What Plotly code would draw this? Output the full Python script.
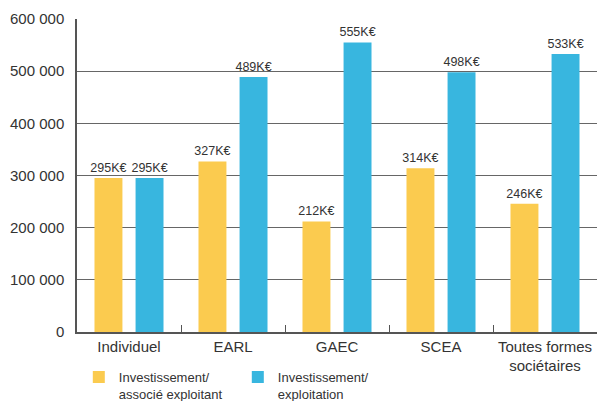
import plotly.graph_objects as go

categories = ["Individuel", "EARL", "GAEC", "SCEA", "Toutes formes<br>sociétaires"]
associe_k = [295, 327, 212, 314, 246]
exploitation_k = [295, 489, 555, 498, 533]
y_ticks = [0, 100000, 200000, 300000, 400000, 500000, 600000]
y_ticktext = ["0", "100 000", "200 000", "300 000", "400 000", "500 000", "600 000"]

YELLOW = "#FBCB4F"
BLUE = "#38B6DF"
FONT = "Liberation Sans, Arial, sans-serif"

fig = go.Figure()
fig.add_trace(go.Bar(
    x=categories, y=[v * 1000 for v in associe_k],
    name="Investissement/<br>associé exploitant",
    marker=dict(color=YELLOW, line=dict(width=0)),
    text=[f"{v}K€" for v in associe_k], textposition="outside",
    textfont=dict(size=12.5, color="#333333", family=FONT),
    constraintext="none", cliponaxis=False,
))
fig.add_trace(go.Bar(
    x=categories, y=[v * 1000 for v in exploitation_k],
    name="Investissement/<br>exploitation",
    marker=dict(color=BLUE, line=dict(width=0)),
    text=[f"{v}K€" for v in exploitation_k], textposition="outside",
    textfont=dict(size=12.5, color="#333333", family=FONT),
    constraintext="none", cliponaxis=False,
))

fig.update_layout(
    width=597, height=401,
    margin=dict(l=77, r=0, t=19, b=69, autoexpand=False),
    paper_bgcolor="white", plot_bgcolor="white",
    barmode="group", bargap=0.21, bargroupgap=0.32,
    font=dict(family=FONT, size=14, color="#333333"),
    showlegend=True,
    legend=dict(
        orientation="h", x=0.132, xref="container", y=0.097, yref="container",
        xanchor="left", yanchor="top",
        font=dict(size=13, color="#333333"), valign="top",
        entrywidth=114, entrywidthmode="pixels",
        itemclick=False, itemdoubleclick=False,
        tracegroupgap=0,
    ),
)
fig.update_xaxes(
    type="category", range=[-0.5, 4.5], automargin=False,
    showline=True, linecolor="#555555", linewidth=1.5,
    ticks="inside", tickson="boundaries", ticklen=7, tickcolor="#555555", tickwidth=1,
    tickfont=dict(size=15, color="#333333"),
    showgrid=False, fixedrange=True,
)
fig.update_yaxes(
    range=[0, 600000], tickvals=y_ticks, ticktext=y_ticktext, automargin=False,
    showline=True, linecolor="#555555", linewidth=1.5,
    showgrid=True, gridcolor="#666666", gridwidth=1,
    zeroline=False, ticks="", ticklabelstandoff=8,
    tickfont=dict(size=15, color="#333333"),
    fixedrange=True,
)

fig.write_html("out.html")
